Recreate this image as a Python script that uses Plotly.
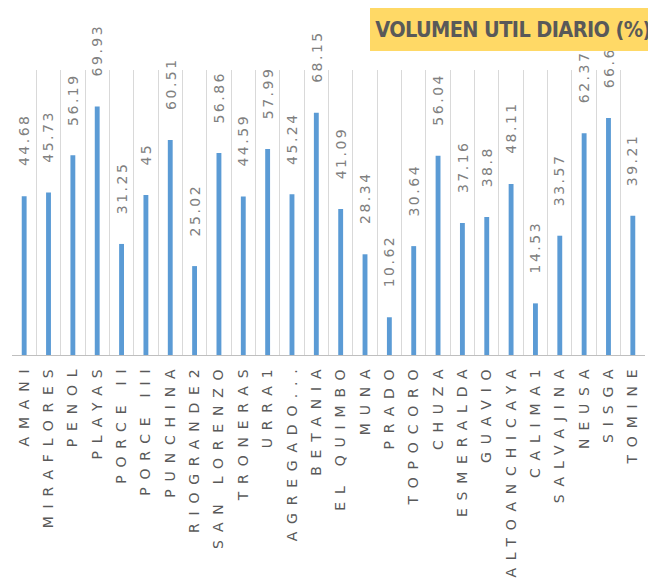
import plotly.graph_objects as go

categories = ["AMANI", "MIRAFLORES", "PENOL", "PLAYAS", "PORCE II", "PORCE III", "PUNCHINA",
              "RIOGRANDE2", "SAN LORENZO", "TRONERAS", "URRA1", "AGREGADO...", "BETANIA",
              "EL QUIMBO", "MUNA", "PRADO", "TOPOCORO", "CHUZA", "ESMERALDA", "GUAVIO",
              "ALTOANCHICAYA", "CALIMA1", "SALVAJINA", "NEUSA", "SISGA", "TOMINE"]
values = [44.68, 45.73, 56.19, 69.93, 31.25, 45, 60.51, 25.02, 56.86, 44.59, 57.99, 45.24, 68.15,
          41.09, 28.34, 10.62, 30.64, 56.04, 37.16, 38.8, 48.11, 14.53, 33.57, 62.37, 66.66, 39.21]
title_text = "VOLUMEN UTIL DIARIO (%)"

tick_text = ['<span style="letter-spacing:7.8px">%s</span>' % c for c in categories]

LABEL_SIZE = 14
LABEL_SPACING = 2.5
GAP = 30


def label_length(s):
    w = 0.0
    for ch in s:
        w += (0.318 if ch == "." else 0.636) * LABEL_SIZE + LABEL_SPACING
    return w


fig = go.Figure()
fig.add_trace(go.Bar(
    x=categories, y=values,
    marker=dict(color="#5B9BD5", line=dict(width=0)),
    hoverinfo="x+y",
))

for c, v in zip(categories, values):
    s = f"{v:g}"
    fig.add_annotation(
        x=c, y=v, xref="x", yref="y",
        text='<span style="letter-spacing:%gpx">%s</span>' % (LABEL_SPACING, s),
        textangle=-90, showarrow=False,
        xanchor="center", yanchor="middle", yshift=GAP + label_length(s) / 2,
        font=dict(family="DejaVu Sans", size=LABEL_SIZE, color="#808080"),
    )

fig.add_annotation(
    xref="paper", yref="paper", x=0.5656, y=1.2175,
    xanchor="left", yanchor="top",
    width=286, height=43, borderpad=0, borderwidth=0,
    bgcolor="#FFD966",
    text='<b><span style="font-stretch:condensed;letter-spacing:-0.6px">%s</span></b>' % title_text,
    showarrow=False,
    font=dict(family="DejaVu Sans Condensed", size=21.5, color="#595959"),
)

fig.update_layout(
    width=648, height=571,
    margin=dict(l=4, r=11, t=62, b=224, autoexpand=False),
    paper_bgcolor="white", plot_bgcolor="white",
    bargap=0.8,
    showlegend=False,
)
fig.update_xaxes(
    type="category", automargin=False,
    tickmode="array", tickvals=categories, ticktext=tick_text,
    tickangle=-90, tickson="boundaries",
    showgrid=True, gridcolor="#D9D9D9", gridwidth=1,
    showline=True, linecolor="#BFBFBF", linewidth=1,
    ticks="", ticklabelstandoff=0,
    tickfont=dict(family="DejaVu Sans", size=14, color="#595959"),
    range=[-0.5, 25.5],
)
fig.update_yaxes(
    range=[0, 80.2], showgrid=False, showticklabels=False, zeroline=False, showline=False,
    automargin=False,
)

fig.write_html("out.html")
